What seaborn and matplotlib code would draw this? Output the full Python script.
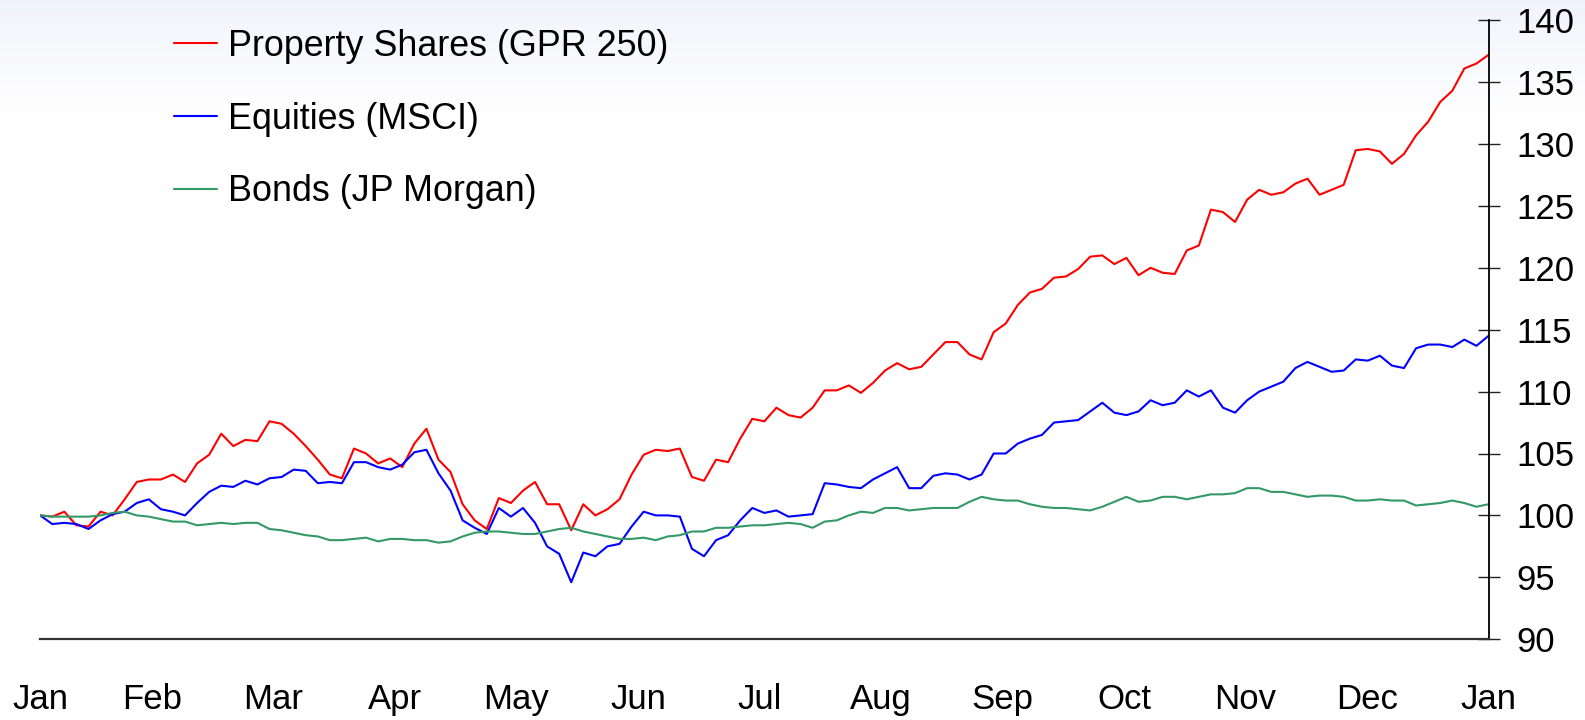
import numpy as np
import pandas as pd
import matplotlib
matplotlib.use("Agg")
import matplotlib.pyplot as plt
import seaborn as sns

# x position in months since 1 Jan (equal-width months), one sample every ~3 days
months = np.linspace(0.08, 12, 121)

property_shares = [
    100.0, 99.9, 100.3, 99.2, 99.1, 100.3, 100.0, 101.3, 102.7, 102.9,
    102.9, 103.3, 102.7, 104.2, 104.9, 106.6, 105.6, 106.1, 106.0, 107.6,
    107.4, 106.6, 105.6, 104.5, 103.3, 103.0, 105.4, 105.0, 104.2, 104.6,
    103.9, 105.8, 107.0, 104.5, 103.5, 100.9, 99.6, 98.9, 101.4, 101.0,
    102.0, 102.7, 100.9, 100.9, 98.8, 100.9, 100.0, 100.5, 101.3, 103.3,
    104.9, 105.3, 105.2, 105.4, 103.1, 102.8, 104.5, 104.3, 106.2, 107.8,
    107.6, 108.7, 108.1, 107.9, 108.7, 110.1, 110.1, 110.5, 109.9, 110.7,
    111.7, 112.3, 111.8, 112.0, 113.0, 114.0, 114.0, 113.0, 112.6, 114.8,
    115.5, 117.0, 118.0, 118.3, 119.2, 119.3, 119.9, 120.9, 121.0, 120.3,
    120.8, 119.4, 120.0, 119.6, 119.5, 121.4, 121.8, 124.7, 124.5, 123.7,
    125.5, 126.3, 125.9, 126.1, 126.8, 127.2, 125.9, 126.3, 126.7, 129.5,
    129.6, 129.4, 128.4, 129.2, 130.7, 131.8, 133.4, 134.3, 136.1, 136.5, 137.2,
]

equities = [
    100.0, 99.3, 99.4, 99.3, 98.9, 99.6, 100.1, 100.3, 101.0, 101.3,
    100.5, 100.3, 100.0, 101.0, 101.9, 102.4, 102.3, 102.8, 102.5, 103.0,
    103.1, 103.7, 103.6, 102.6, 102.7, 102.6, 104.3, 104.3, 103.9, 103.7,
    104.1, 105.1, 105.3, 103.4, 102.0, 99.6, 99.0, 98.5, 100.6, 99.9,
    100.6, 99.4, 97.5, 96.9, 94.6, 97.0, 96.7, 97.5, 97.7, 99.1,
    100.3, 100.0, 100.0, 99.9, 97.3, 96.7, 98.0, 98.4, 99.6, 100.6,
    100.2, 100.4, 99.9, 100.0, 100.1, 102.6, 102.5, 102.3, 102.2, 102.9,
    103.4, 103.9, 102.2, 102.2, 103.2, 103.4, 103.3, 102.9, 103.3, 105.0,
    105.0, 105.8, 106.2, 106.5, 107.5, 107.6, 107.7, 108.4, 109.1, 108.3,
    108.1, 108.4, 109.3, 108.9, 109.1, 110.1, 109.6, 110.1, 108.7, 108.3,
    109.3, 110.0, 110.4, 110.8, 111.9, 112.4, 112.0, 111.6, 111.7, 112.6,
    112.5, 112.9, 112.1, 111.9, 113.5, 113.8, 113.8, 113.6, 114.2, 113.7, 114.5,
]

bonds = [
    100.0, 99.9, 99.9, 99.9, 99.9, 100.0, 100.2, 100.3, 100.0, 99.9,
    99.7, 99.5, 99.5, 99.2, 99.3, 99.4, 99.3, 99.4, 99.4, 98.9,
    98.8, 98.6, 98.4, 98.3, 98.0, 98.0, 98.1, 98.2, 97.9, 98.1,
    98.1, 98.0, 98.0, 97.8, 97.9, 98.3, 98.6, 98.7, 98.7, 98.6,
    98.5, 98.5, 98.7, 98.9, 99.0, 98.7, 98.5, 98.3, 98.1, 98.1,
    98.2, 98.0, 98.3, 98.4, 98.7, 98.7, 99.0, 99.0, 99.1, 99.2,
    99.2, 99.3, 99.4, 99.3, 99.0, 99.5, 99.6, 100.0, 100.3, 100.2,
    100.6, 100.6, 100.4, 100.5, 100.6, 100.6, 100.6, 101.1, 101.5, 101.3,
    101.2, 101.2, 100.9, 100.7, 100.6, 100.6, 100.5, 100.4, 100.7, 101.1,
    101.5, 101.1, 101.2, 101.5, 101.5, 101.3, 101.5, 101.7, 101.7, 101.8,
    102.2, 102.2, 101.9, 101.9, 101.7, 101.5, 101.6, 101.6, 101.5, 101.2,
    101.2, 101.3, 101.2, 101.2, 100.8, 100.9, 101.0, 101.2, 101.0, 100.7, 100.9,
]

series_names = ['Property Shares (GPR 250)', 'Equities (MSCI)', 'Bonds (JP Morgan)']
series_colors = ['#ff0000', '#0000ff', '#339966']
month_labels = ['Jan', 'Feb', 'Mar', 'Apr', 'May', 'Jun', 'Jul',
                'Aug', 'Sep', 'Oct', 'Nov', 'Dec', 'Jan']
y_ticks = [90, 95, 100, 105, 110, 115, 120, 125, 130, 135, 140]

# long-form table for seaborn
df = pd.concat([
    pd.DataFrame({'month': months, 'index': vals, 'series': name})
    for name, vals in zip(series_names, [property_shares, equities, bonds])
])

sns.set_style('white')
plt.rcParams['font.family'] = ['Liberation Sans', 'DejaVu Sans']
plt.rcParams['text.color'] = 'black'

W, H = 1585, 720
fig = plt.figure(figsize=(W / 100, H / 100), dpi=100)

# faint bluish wash along the top of the slide
bg = fig.add_axes([0, 0, 1, 1], zorder=-10)
fade = np.clip(np.linspace(0, 720, 360) / 120.0, 0, 1)[:, None, None] ** 0.8
top = np.array([0.945, 0.952, 0.985])
bg.imshow(top + (1 - top) * fade * np.ones((1, 2, 3)), aspect='auto',
          extent=[0, 1, 0, 1], origin='upper')
bg.axis('off')

left, right, top_px, bottom_px = 40.2, 1488.5, 20.2, 639.2
ax = fig.add_axes([left / W, 1 - bottom_px / H, (right - left) / W, (bottom_px - top_px) / H])
ax.patch.set_alpha(0)

sns.lineplot(data=df, x='month', y='index', hue='series', hue_order=series_names,
             palette=series_colors, linewidth=1.5, ax=ax)

ax.set_xlim(0.08, 12)
ax.set_ylim(90, 140)
ax.set_xlabel('')
ax.set_ylabel('')

ax.set_xticks([0.08] + list(range(1, 13)))
ax.set_xticklabels(month_labels)
ax.yaxis.tick_right()
ax.set_yticks(y_ticks)

for s in ['top', 'left']:
    ax.spines[s].set_visible(False)
ax.spines['bottom'].set_color('#333333')
ax.spines['bottom'].set_linewidth(1.6)
ax.spines['right'].set_color('black')
ax.spines['right'].set_linewidth(1.3)

ax.tick_params(axis='x', direction='inout', length=16.5, width=1.0, color='#222222',
               labelsize=25, pad=23, labelcolor='black')
ax.tick_params(axis='y', direction='inout', length=16.5, width=1.0, color='#222222',
               labelsize=25, pad=12, labelcolor='black', right=True, left=False)

# legend without frame, top left
leg = ax.get_legend()
handles = leg.legend_handles
labels = [t.get_text() for t in leg.get_texts()]
ax.legend(handles, labels, loc='upper left', bbox_to_anchor=(174 / W, 1 - 29 / H),
          bbox_transform=fig.transFigure, frameon=False, fontsize=25.8,
          handlelength=1.2, handletextpad=0.3, labelspacing=1.05, borderpad=0,
          borderaxespad=0)

fig.savefig('out.png', dpi=100)
